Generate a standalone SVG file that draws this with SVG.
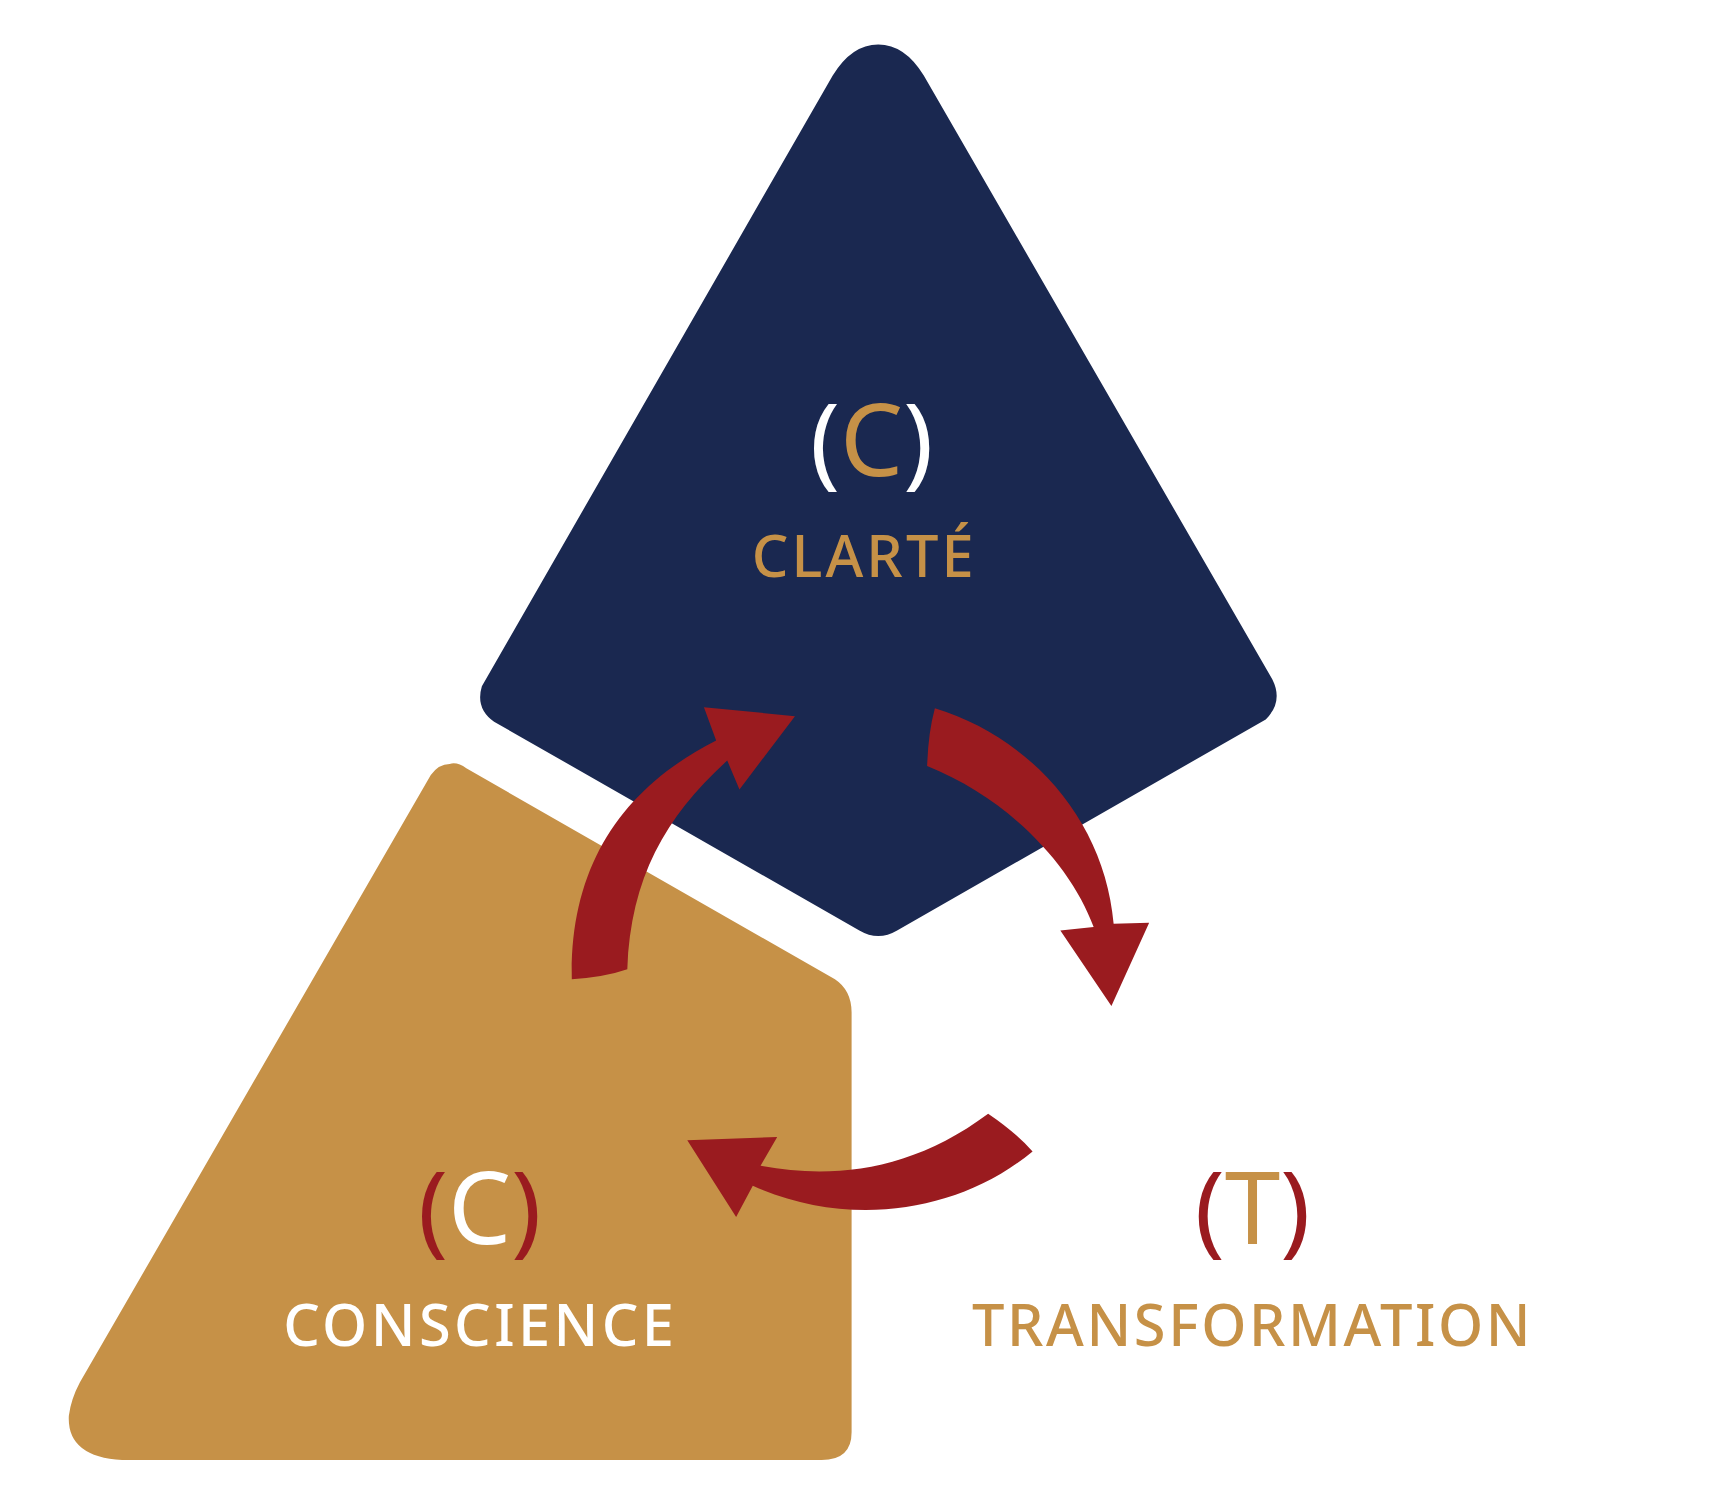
<svg xmlns="http://www.w3.org/2000/svg" width="1721" height="1506" viewBox="0 0 1721 1506">
<style>
.t{font-family:"Noto Sans","Liberation Sans",sans-serif;text-anchor:middle}
.lbl{font-size:52px;font-weight:500}
.big{font-size:90px}
.gold{fill:#C69147}.white{fill:#fff}.red{fill:#9A1B1F}
</style>
<rect width="1721" height="1506" fill="#fff"/>
<g transform="scale(1.1103)">
<g id="conscience">
<path d="M405,688 Q412,686 420,692 L752,882 Q767,892 767,912 L767,1290 Q767,1315 740,1315 L110,1315 Q60,1312 62,1275 Q64,1260 72,1245 L388,698 Q395,688 405,688 Z" fill="#C69147"/>
<text class="t big" x="432" y="1120"><tspan class="red">(</tspan><tspan class="white">C</tspan><tspan class="red">)</tspan></text>
<text class="t lbl white" x="431" y="1212" textLength="352" lengthAdjust="spacing">CONSCIENCE</text>
</g>
<g id="clarte">
<path d="M791,40 Q815,40 832,68 L1146,612 Q1156,632 1140,648 L808,838 Q791,848 774,838 L445,650 Q428,638 434,618 L750,68 Q767,40 791,40 Z" fill="#1A2850"/>
<text class="t big" x="785" y="429"><tspan class="white">(</tspan><tspan class="gold">C</tspan><tspan class="white">)</tspan></text>
<text class="t lbl gold" x="777" y="520" textLength="200" lengthAdjust="spacing">CLARTÉ</text>
</g>
<g id="transformation">
<text class="t big" x="1128" y="1120"><tspan class="red">(</tspan><tspan class="gold">T</tspan><tspan class="red">)</tspan></text>
<text class="t lbl gold" x="1127" y="1212" textLength="503" lengthAdjust="spacing">TRANSFORMATION</text>
</g>
<g id="connectors" fill="#9A1B1F">
<path d="M515,882 C513,780 560,710 645,667 L634,637 L716,645 L666,711 L655,685 C600,735 568,790 565,873 Q545,880 515,882 Z"/>
<path d="M842,638 C930,665 995,740 1003,832 L1035,831 L1001,906 L955,838 L985,835 C965,780 910,720 835,690 Q836,660 842,638 Z"/>
<path d="M890,1003 C820,1055 750,1062 685,1050 L700,1024 L619,1027 L663,1096 L678,1068 C760,1105 860,1095 930,1037 Q915,1020 890,1003 Z"/>
</g>
</g>
</svg>
